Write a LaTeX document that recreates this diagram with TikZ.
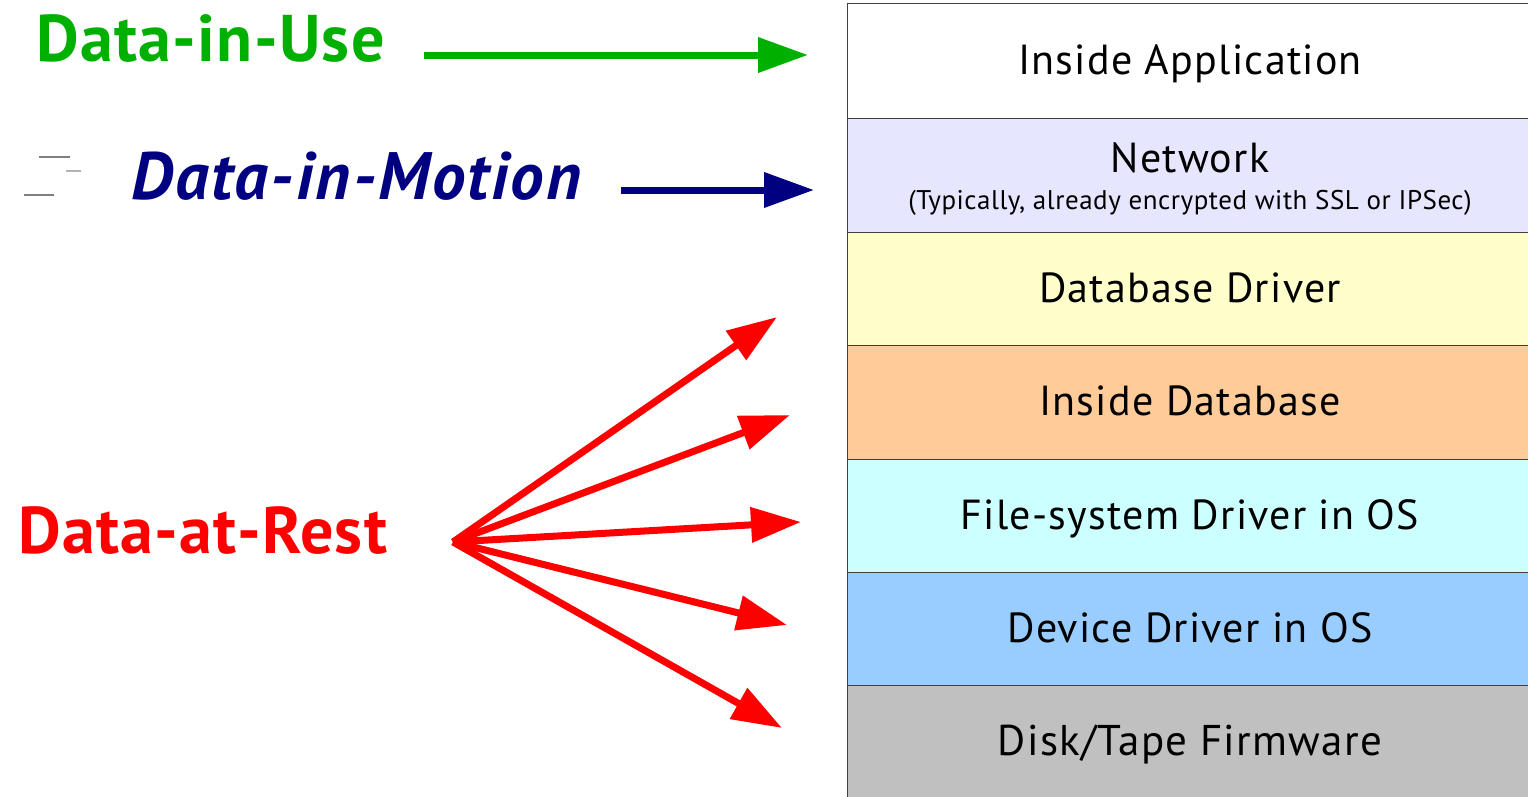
\documentclass[tikz,border=0pt]{standalone}
\usepackage{fontspec}
\setmainfont{PT Sans}
\newfontfamily\layerfont[LetterSpace=3]{PT Sans}
\newfontfamily\subfont[LetterSpace=2]{PT Sans}
\newfontfamily\bigfont[LetterSpace=2]{PT Sans}
\newfontfamily\motionfont[LetterSpace=3.5]{PT Sans}
\usetikzlibrary{arrows.meta}
\definecolor{usegreen}{RGB}{0,176,0}
\definecolor{motionblue}{RGB}{0,0,128}
\definecolor{restred}{RGB}{255,0,0}
\definecolor{cNet}{RGB}{230,230,255}
\definecolor{cDbd}{RGB}{255,255,204}
\definecolor{cIdb}{RGB}{255,204,153}
\definecolor{cFs}{RGB}{204,255,255}
\definecolor{cDev}{RGB}{153,204,255}
\definecolor{cDisk}{RGB}{192,192,192}
\begin{document}
\begin{tikzpicture}[x=1pt,y=-1pt,
  layerbox/.style={draw=black!75, line width=1pt, anchor=north west,
    minimum width=700pt, inner sep=0pt, outer sep=0pt},
  layertext/.style={anchor=base, font=\layerfont\fontsize{42}{48}\selectfont, inner sep=0pt},
  subtext/.style={anchor=base, font=\subfont\fontsize{27}{32}\selectfont, inner sep=0pt},
  biglabel/.style={anchor=base west, font=\bigfont\fontsize{66}{74}\selectfont\bfseries, inner sep=0pt},
  bigarrow/.style={line width=7pt, -{Triangle[length=50pt,width=34pt]}},
  stray/.style={line width=1.2pt}
]
\useasboundingbox (0,0) rectangle (1528,796);
\clip (0,0) rectangle (1528,796);

% layer boxes
\node[layerbox, fill=white, minimum height=115pt] (app)  at (847,3) {};
\node[layerbox, fill=cNet,  minimum height=114pt] (net)  at (847,118) {};
\node[layerbox, fill=cDbd,  minimum height=113pt] (dbd)  at (847,232) {};
\node[layerbox, fill=cIdb,  minimum height=114pt] (idb)  at (847,345) {};
\node[layerbox, fill=cFs,   minimum height=113pt] (fs)   at (847,459) {};
\node[layerbox, fill=cDev,  minimum height=113pt] (dev)  at (847,572) {};
\node[layerbox, fill=cDisk, minimum height=130pt] (disk) at (847,685) {};

% layer texts
\node[layertext] (tapp)  at (1190,74)  {Inside Application};
\node[layertext] (tnet)  at (1190,172) {Network};
\node[subtext]   (tnet2) at (1190,209) {(Typically, already encrypted with SSL or IPSec)};
\node[layertext] (tdbd)  at (1190,302) {Database Driver};
\node[layertext] (tidb)  at (1190,415) {Inside Database};
\node[layertext] (tfs)   at (1190,529) {File-system Driver in OS};
\node[layertext] (tdev)  at (1190,642) {Device Driver in OS};
\node[layertext, font=\layerfont\fontsize{43}{48}\selectfont] (tdisk) at (1190,755) {Disk/Tape Firmware};

% left labels
\node[biglabel, text=usegreen] (use) at (36,61) {Data-in-Use};
\node[biglabel, text=motionblue, font=\motionfont\fontsize{67}{74}\selectfont\bfseries\itshape] (motion) at (131,199) {Data-in-Motion};
\node[biglabel, text=restred] (rest) at (18,553) {Data-at-Rest};

% stray marks
\draw[stray, draw=black!50] (39,157) -- (70,157);
\draw[stray, draw=black!30, line width=1.6pt] (66,171) -- (81,171);
\draw[stray, draw=black!50] (24,195) -- (54,195);

% arrow end points
\coordinate (gs) at (424,55);
\coordinate (ge) at (808,55);
\coordinate (bs) at (621,190);
\coordinate (be) at (814,190);
\coordinate (rs) at (453,542);
\coordinate (r1) at (777,317);
\coordinate (r2) at (790,415);
\coordinate (r3) at (801,522);
\coordinate (r4) at (787,625);
\coordinate (r5) at (782,728);

\draw[bigarrow, draw=usegreen, fill=usegreen] (gs) -- (ge);
\draw[bigarrow, draw=motionblue, fill=motionblue] (bs) -- (be);
\foreach \t in {r1,r2,r3,r4,r5}
  \draw[bigarrow, draw=restred, fill=restred] (rs) -- (\t);
\end{tikzpicture}
\end{document}
